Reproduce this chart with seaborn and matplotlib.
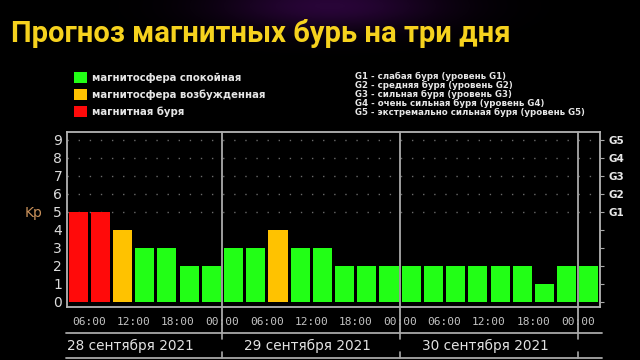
import numpy as np
import pandas as pd
import matplotlib
matplotlib.use("Agg")
import matplotlib.pyplot as plt
import matplotlib.transforms as mtransforms
from matplotlib.patches import Rectangle
from matplotlib.lines import Line2D
import seaborn as sns

# ---------------- data ----------------
title = "Прогноз магнитных бурь на три дня"
# start of each 3-hour interval, hours from 28.09.2021 00:00 (local time)
interval_start = [3, 6, 9, 12, 15, 18, 21,
                  24, 27, 30, 33, 36, 39, 42, 45,
                  48, 51, 54, 57, 60, 63, 66, 69,
                  72]
kp_values = [5, 5, 4, 3, 3, 2, 2,
             3, 3, 4, 3, 3, 2, 2, 2,
             2, 2, 2, 2, 2, 2, 1, 2,
             2]
time_ticks = [6, 12, 18, 24, 30, 36, 42, 48, 54, 60, 66, 72]
time_labels = ["06:00", "12:00", "18:00", "00:00"] * 3
day_boundaries = [24, 48, 72]
day_mids = [12, 36, 60]
day_labels = ["28 сентября 2021", "29 сентября 2021", "30 сентября 2021"]
kp_ticks = [0, 1, 2, 3, 4, 5, 6, 7, 8, 9]
g_ticks = [5, 6, 7, 8, 9]
g_labels = ["G1", "G2", "G3", "G4", "G5"]
status_names = ["магнитосфера спокойная", "магнитосфера возбужденная", "магнитная буря"]
status_colors = ["#22ff16", "#ffc200", "#ff0a0a"]
scale_notes = ["G1 - слабая буря (уровень G1)",
               "G2 - средняя буря (уровень G2)",
               "G3 - сильная буря (уровень G3)",
               "G4 - очень сильная буря (уровень G4)",
               "G5 - экстремально сильная буря (уровень G5)"]

def status_of(kp):
    if kp >= 5:
        return status_names[2]
    if kp == 4:
        return status_names[1]
    return status_names[0]

df = pd.DataFrame({
    "hour": [s + 1.5 for s in interval_start],
    "kp": kp_values,
    "status": [status_of(k) for k in kp_values],
})

# ---------------- figure ----------------
sns.set_style("dark", {"axes.facecolor": "black", "figure.facecolor": "black"})
plt.rcParams["font.family"] = ["DejaVu Sans"]

W, H = 640, 360
fig = plt.figure(figsize=(6.4, 3.6), dpi=100, facecolor="black")

# faint purple haze behind the title
bg = fig.add_axes([0, 0, 1, 1], zorder=-10)
gx, gy = np.meshgrid(np.linspace(0, W, 320), np.linspace(0, H, 180))
glow = np.exp(-(((gx - 330) / 110) ** 2 + ((gy - 5) / 25) ** 2))
img = np.zeros((180, 320, 3))
img[..., 0] = 0.16 * glow
img[..., 1] = 0.02 * glow
img[..., 2] = 0.22 * glow
bg.imshow(img, extent=[0, W, H, 0], aspect="auto", interpolation="bilinear")
bg.set_axis_off()

ax_l, ax_r, ax_t, ax_b = 67, 600, 132, 307
ax = fig.add_axes([ax_l / W, 1 - ax_b / H, (ax_r - ax_l) / W, (ax_b - ax_t) / H])
ax.set_facecolor("black")

palette = dict(zip(status_names, status_colors))
sns.barplot(data=df, x="hour", y="kp", hue="status", palette=palette,
            native_scale=True, width=0.86, dodge=False, legend=False,
            errorbar=None, saturation=1, linewidth=0, ax=ax, zorder=3)

ax.set_xlim(3, 75)
ax.set_ylim(-0.28, 9.44)
ax.set_xlabel("")
ax.set_ylabel("")
ax.grid(False)

# dotted guide lines for Kp 5..9
for y in g_ticks:
    ax.axhline(y, color="#6a6a6a", lw=1.0, ls=(0, (1, 7)), zorder=1)

# day separators
sep_ext = (333 - ax_b) / (ax_b - ax_t)
for xb in day_boundaries:
    ax.axvline(xb, ymin=-sep_ext, ymax=1, color="#aaaaaa", lw=1.3,
               clip_on=False, zorder=4)

for sp in ax.spines.values():
    sp.set_color("#b4b4b4")
    sp.set_linewidth(1.3)

# y ticks (left)
ax.set_yticks(kp_ticks)
ax.set_yticklabels([str(v) for v in kp_ticks])
ax.tick_params(axis="y", which="both", length=0, pad=3.5, labelsize=10,
               labelcolor="#dcdcdc")

# x ticks
ax.set_xticks(time_ticks)
ax.set_xticklabels(time_labels, fontfamily="DejaVu Sans Mono")
ax.set_xticks(interval_start + [75], minor=True)
ax.tick_params(axis="x", which="both", direction="out", length=3,
               color="#aaaaaa", width=1)
ax.tick_params(axis="x", which="major", labelsize=8, labelcolor="#c4c4c4", pad=4)

# right G axis
ax2 = ax.twinx()
ax2.set_ylim(ax.get_ylim())
ax2.set_yticks(kp_ticks)
ax2.set_yticklabels(["" if v < 5 else g_labels[v - 5] for v in kp_ticks])
ax2.tick_params(axis="y", direction="out", length=3, color="#aaaaaa",
                labelsize=7.5, labelcolor="#e8e8e8", pad=3)
for lab in ax2.get_yticklabels():
    lab.set_fontweight("bold")
for sp in ax2.spines.values():
    sp.set_visible(False)
ax2.grid(False)

# Kp label
fig.text(34 / W, 1 - 213 / H, "Kp", color="#c8905a", fontsize=10,
         ha="center", va="center")

# lines and labels below the axis
for yy in (333, 358):
    fig.add_artist(Line2D([66 / W, 602 / W], [1 - yy / H] * 2,
                          transform=fig.transFigure, color="#a8a8a8", lw=1.3))
blend = mtransforms.blended_transform_factory(ax.transData, fig.transFigure)
for xb in day_boundaries:
    ax.plot([xb, xb], [1 - 333 / H, 1 - 339 / H], transform=blend,
            color="#a8a8a8", lw=1.2, clip_on=False)
    ax.plot([xb, xb], [1 - 352 / H, 1 - 358 / H], transform=blend,
            color="#a8a8a8", lw=1.2, clip_on=False)
for xm, lab in zip(day_mids, day_labels):
    ax.text(xm - 0.5, 1 - 345.5 / H, lab, transform=blend, ha="center",
            va="center", fontsize=9.8, color="#e2e2e2")

# left legend (status colours)
for i, (name, col) in enumerate(zip(status_names, status_colors)):
    yc = 77.5 + i * 17
    fig.add_artist(Rectangle((74 / W, 1 - (yc + 5.5) / H), 13 / W, 11 / H,
                             transform=fig.transFigure, color=col, lw=0))
    fig.text(92 / W, 1 - yc / H, name, color="#e6e6e6", fontsize=7.3,
             fontweight="bold", ha="left", va="center")

# right legend (storm scale)
for i, note in enumerate(scale_notes):
    fig.text(355 / W, 1 - (76 + i * 9) / H, note, color="#e6e6e6",
             fontsize=6.2, fontweight="bold", ha="left", va="center")

# title
fig.text(11 / W, 1 - 34 / H, title, color="#f6d21e", fontsize=21,
         fontfamily="Roboto", fontweight="bold", ha="left", va="center")

fig.savefig("out.png", dpi=100, facecolor="black")
